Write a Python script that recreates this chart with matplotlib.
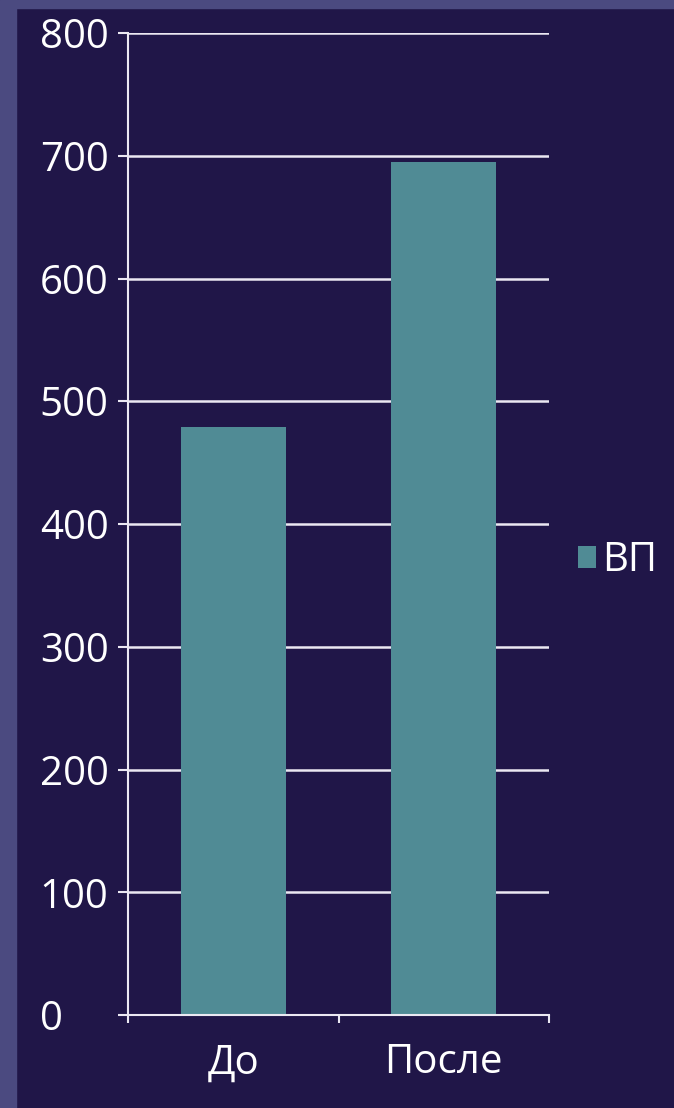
import numpy as np
import matplotlib.pyplot as plt
from matplotlib.patches import Rectangle

# === Data ===
categories = ["До", "После"]
values = [479, 695]
series_name = "ВП"
y_ticks = [0, 100, 200, 300, 400, 500, 600, 700, 800]

# === Style ===
BG = "#201648"
STRIPE = "#4b4a80"
BAR = "#508b95"
GRID = "#ebe8f2"
plt.rcParams['font.family'] = ['Open Sans', 'DejaVu Sans']

fig = plt.figure(figsize=(6.74, 11.08), dpi=100, facecolor=BG)

# left / top lighter stripes of the slide background
fig.patches.append(Rectangle((0, 0), 16 / 674, 1, transform=fig.transFigure,
                             color=STRIPE, zorder=0))
fig.patches.append(Rectangle((0, 1 - 8 / 1108), 1, 8 / 1108, transform=fig.transFigure,
                             color=STRIPE, zorder=0))

ax = fig.add_axes([128 / 674, 1 - 1015 / 1108, (549 - 128) / 674, (1015 - 33) / 1108])
ax.set_facecolor(BG)

x = np.arange(len(categories))
ax.bar(x, values, width=0.5, color=BAR, zorder=2, label=series_name)

ax.set_xlim(-0.5, len(categories) - 0.5)
ax.set_ylim(0, 800)
ax.set_yticks(y_ticks)
ax.set_yticklabels([str(v) for v in y_ticks], ha='left')
ax.yaxis.grid(True, color=GRID, linewidth=1.8, zorder=1)
ax.set_axisbelow(True)

# category boundary ticks and centered labels
ax.set_xticks(np.arange(-0.5, len(categories), 1.0))
ax.set_xticklabels([])
ax.set_xticks(x, minor=True)
ax.set_xticklabels(categories, minor=True)

ax.tick_params(axis='y', colors=GRID, labelcolor='white', labelsize=29,
               length=7.5, width=1.5, pad=56)
ax.tick_params(axis='x', which='major', colors=GRID, length=6, width=1.5, direction='out')
ax.tick_params(axis='x', which='minor', length=0, labelcolor='white', labelsize=29, pad=20)

for side in ['top', 'right']:
    ax.spines[side].set_visible(False)
for side in ['left', 'bottom']:
    ax.spines[side].set_color(GRID)
    ax.spines[side].set_linewidth(1.5)

leg = fig.legend(loc='center left', bbox_to_anchor=(562 / 674, 1 - 561 / 1108),
                 frameon=False, fontsize=29, handlelength=0.45, handleheight=0.45,
                 handletextpad=0.15, borderaxespad=0)
for t in leg.get_texts():
    t.set_color('white')

fig.savefig("out.png", dpi=100, facecolor=BG)
